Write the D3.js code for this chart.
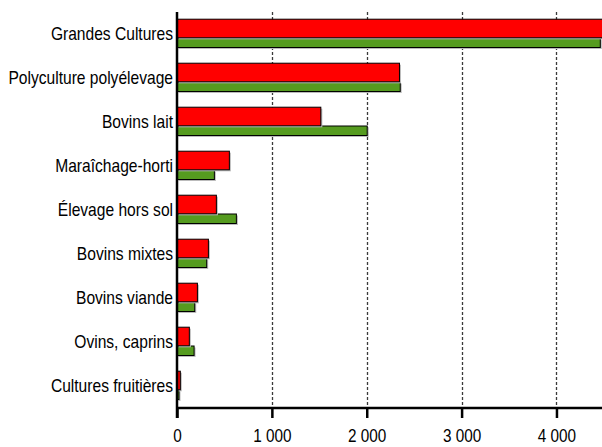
<!DOCTYPE html>
<html>
<head>
<meta charset="utf-8">
<script src="https://cdn.jsdelivr.net/npm/d3@7"></script>
<style>
body{margin:0;background:#fff;}
svg text{font-family:"Liberation Sans",Arial,sans-serif;fill:#000;}
.grid line{stroke:#3a3a3a;stroke-dasharray:3,2;stroke-width:1.3;}
</style>
</head>
<body>
<div id="chart"></div>
<script>
var categories = ['Grandes Cultures','Polyculture polyélevage','Bovins lait','Maraîchage-horti','Élevage hors sol','Bovins mixtes','Bovins viande','Ovins, caprins','Cultures fruitières'];
var redValues = [4490, 2345, 1516, 552, 415, 331, 215, 130, 35];
var greenValues = [4462, 2353, 2005, 394, 626, 313, 187, 180, 21];
var xTicks = [0, 1000, 2000, 3000, 4000];

var W = 602, H = 447,
	mLeft = 177, mRight = 602, mTop = 12, mBottom = 408,
	stretch = 1.23;

var svg = d3.select('#chart').append('svg').attr('width',W).attr('height',H);

var x = d3.scaleLinear().domain([0,4480]).range([mLeft,mRight]);
var y = d3.scaleBand().domain(categories).range([mTop,mBottom]);

var fmt = function(d){ return d3.format(',')(d).replace(',',' '); };

// dashed grid
svg.append('g').attr('class','grid')
	.selectAll('line')
	.data(xTicks.filter(function(d){ return d>0; }))
	.enter()
	.append('line')
		.attr('x1',function(d){ return Math.round(x(d))+0.5; })
		.attr('x2',function(d){ return Math.round(x(d))+0.5; })
		.attr('y1',mTop)
		.attr('y2',mBottom);

svg.append('defs').append('clipPath').attr('id','plotClip')
	.append('rect').attr('x',mLeft).attr('y',0).attr('width',mRight-mLeft).attr('height',H);

var bars = svg.append('g').attr('clip-path','url(#plotClip)');

function drawSeries(vals, cls, fill, off, h){
	// soft shadow
	bars.selectAll('.sh'+cls)
		.data(vals)
		.enter()
		.append('rect')
			.attr('class','sh'+cls)
			.attr('x',mLeft+1.5)
			.attr('y',function(d,i){ return y(categories[i])+off+1.5; })
			.attr('width',function(d){ return x(d)-mLeft; })
			.attr('height',h)
			.attr('fill','#bbb');
	bars.selectAll('.'+cls)
		.data(vals)
		.enter()
		.append('rect')
			.attr('class',cls)
			.attr('x',mLeft)
			.attr('y',function(d,i){ return y(categories[i])+off; })
			.attr('width',function(d){ return x(d)-mLeft; })
			.attr('height',h)
			.attr('fill',fill)
			.attr('stroke','#000')
			.attr('stroke-width',1);
}
drawSeries(greenValues,'green','#559b1f',26,9.5);
drawSeries(redValues,'red','#ff0000',7.2,18.6);

// axes
var xAxis = d3.axisBottom(x).tickValues(xTicks).tickSize(10).tickFormat(fmt);
var gx = svg.append('g').attr('transform','translate(0,'+mBottom+')').call(xAxis);
gx.select('.domain').attr('stroke','#000').attr('stroke-width',2.5).attr('d','M'+mLeft+',0H'+mRight);
gx.selectAll('.tick line').attr('stroke','#000').attr('stroke-width',2.5);
gx.selectAll('.tick text')
	.attr('font-size',15.3).attr('dy',0).attr('y',34.5/stretch)
	.attr('transform','scale(1,'+stretch+')');

var yAxis = d3.axisLeft(y).tickSize(0).tickPadding(4);
var gy = svg.append('g').attr('transform','translate('+mLeft+',0)').call(yAxis);
gy.select('.domain').attr('stroke','#000').attr('stroke-width',2.5).attr('d','M0,'+mTop+'V'+(mBottom+10));
gy.selectAll('.tick text')
	.attr('font-size',15.6)
	.attr('transform','scale(1,'+stretch+')');
</script>
</body>
</html>
